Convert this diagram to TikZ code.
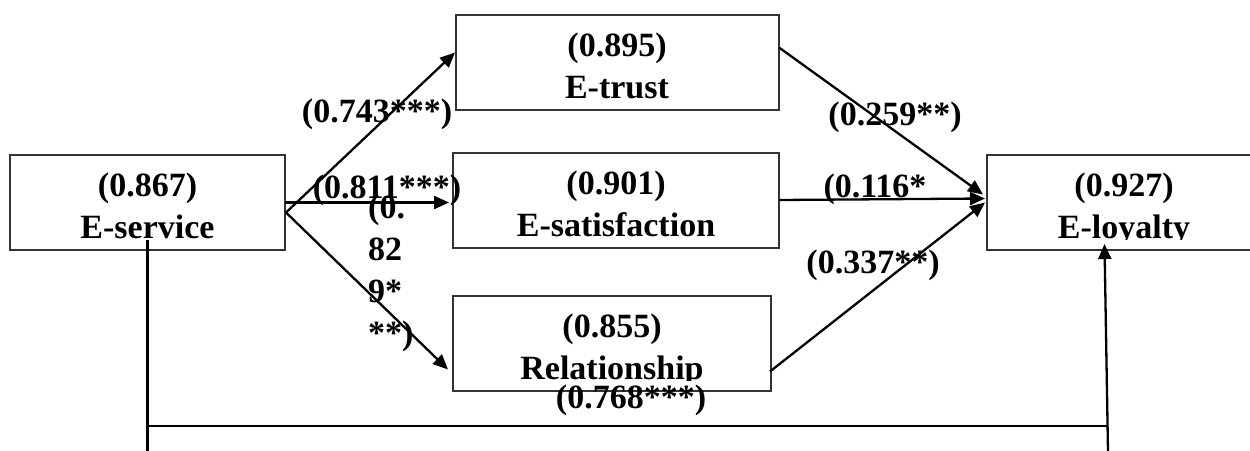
\documentclass[tikz,border=0pt]{standalone}
\usepackage{fontspec}
\setmainfont{Liberation Serif}
\usetikzlibrary{arrows.meta,calc}
\begin{document}
\begin{tikzpicture}[x=1pt,y=-1pt,
  box/.style={draw=black!80,line width=1.3pt,rectangle,inner sep=0pt,outer sep=0pt},
  txt/.style={font=\fontsize{34}{42}\selectfont\bfseries,anchor=base,inner sep=0pt},
  conn/.style={line width=2.3pt,black},
  arr/.style={conn,-{Triangle[length=15pt,width=13pt]}}]
\useasboundingbox[fill=white] (0,0) rectangle (1250,450);
% boxes
\node[box,minimum width=275pt,minimum height=95pt] (es) at (147.5,202.5) {};
\node[box,minimum width=323pt,minimum height=95pt] (et) at (617.5,62.5) {};
\node[box,minimum width=326pt,minimum height=95pt] (esat) at (616,200.5) {};
\node[box,minimum width=318pt,minimum height=95pt] (rel) at (612,343.5) {};
\node[box,minimum width=275pt,minimum height=95pt] (el) at (1124.5,202.5) {};
% box texts
\node[txt] (es1) at (147.5,196) {(0.867)};
\node[txt] (es2) at (147.5,238) {E-service};
\node[txt] (et1) at (617,56) {(0.895)};
\node[txt] (et2) at (617,98) {E-trust};
\node[txt] (esat1) at (616,194) {(0.901)};
\node[txt] (esat2) at (616,236) {E-satisfaction};
\node[txt] (rel1) at (612,337) {(0.855)};
\begin{scope}
\clip (450,340) rectangle (775,380);
\node[txt] (rel2) at (612,379) {Relationship};
\end{scope}
\node[txt] (el1) at (1124,196) {(0.927)};
\begin{scope}
\clip (990,200) rectangle (1250,239);
\node[txt] (el2) at (1124,238) {E-loyalty};
\end{scope}
% connectors
\draw[arr] ($(es.east)+(1,10)$) -- ($(et.west)+(-1,-10)$);
\draw[arr] (es.east) -- ($(esat.west)+(-4,2)$);
\draw[arr] ($(es.east)+(1,10)$) -- ($(rel.west)+(-5,26)$);
\draw[arr] ($(et.east)+(0,-15)$) -- ($(el.west)+(-4,-8)$);
\draw[arr] ($(esat.east)+(0,-0.5)$) -- ($(el.west)+(-2,-4)$);
\draw[arr] ($(rel.east)+(-1,28)$) -- ($(el.west)+(-2,0)$);
\coordinate (b1) at ($(es.south)+(0,-10)$);
\coordinate (b2) at (147.5,452);
\coordinate (b3) at (147.5,426);
\coordinate (b4) at (1108,426);
\coordinate (b5) at (1108,452);
\draw[conn] (b1) -- (b2);
\draw[conn] (b3) -- (b4);
\draw[arr] (b5) -- ($(el.south)+(-20,-6)$);
% path labels
\node[txt] (l1) at (377,122) {(0.743***)};
\node[txt] (l2) at (387,198) {(0.811***)};
\node[txt,anchor=base west,text width=50pt,align=left] (l3) at (368,218) {(0.\\82\\9*\\{}**)};
\node[txt] (l4) at (895,125) {(0.259**)};
\node[txt] (l5) at (875,197) {(0.116*};
\node[txt] (l6) at (873,273) {(0.337**)};
\node[txt] (l7) at (631,408) {(0.768***)};
\end{tikzpicture}
\end{document}
